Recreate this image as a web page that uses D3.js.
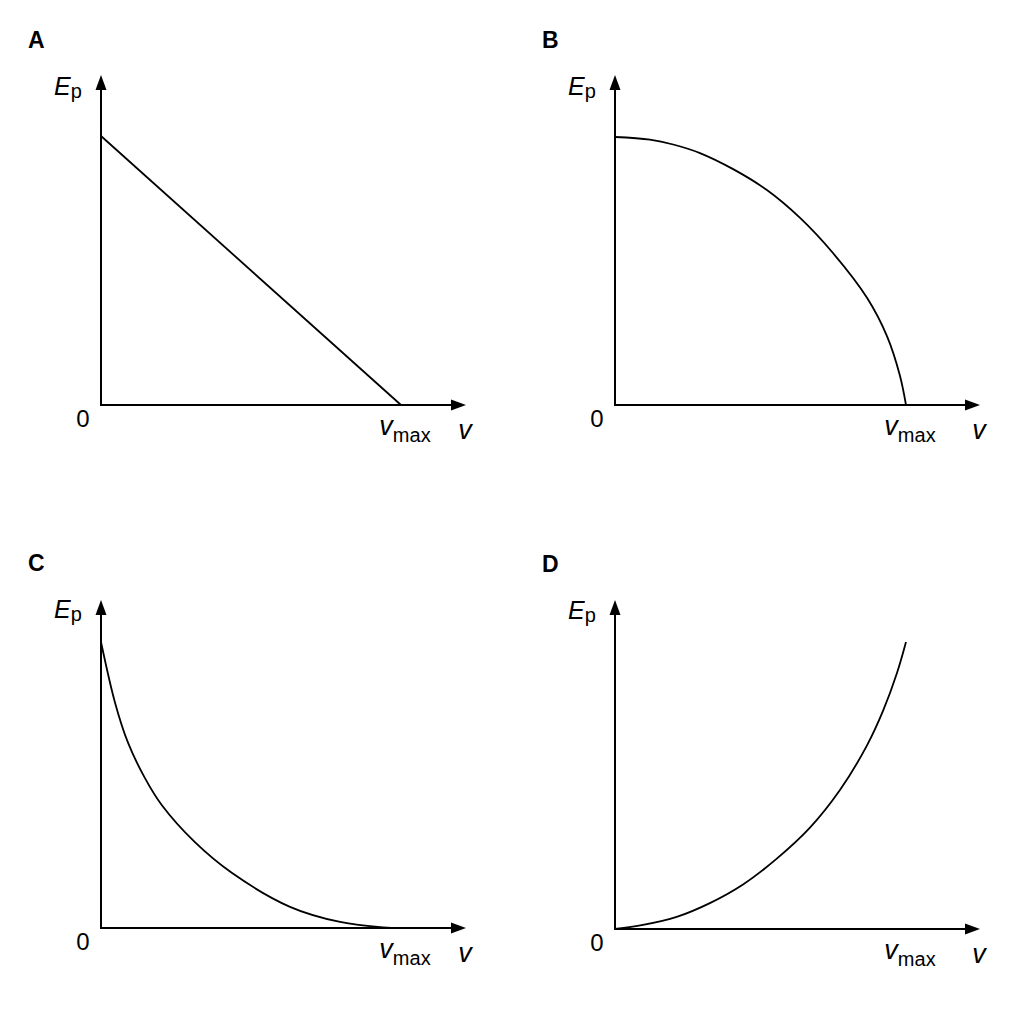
<!DOCTYPE html>
<html>
<head>
<meta charset="utf-8">
<script src="https://cdn.jsdelivr.net/npm/d3@7"></script>
<style>
  body { margin: 0; background: #fff; }
  text { font-family: "Liberation Sans", Arial, sans-serif; fill: #000; }
</style>
</head>
<body>
<div id="chart"></div>
<script>
// values, normalised to vmax = 1 and Ep(max) = 1
const panelKeys = ["A", "B", "C", "D"];
const vA = [0, 1];
const epA = [1, 0];
const vB = [0, 0.12, 0.2, 0.292, 0.406, 0.522, 0.636, 0.749, 0.866, 0.935, 0.979, 1];
const epB = [1, 0.99, 0.972, 0.94, 0.88, 0.802, 0.698, 0.567, 0.4, 0.256, 0.11, 0];
const vC = [0, 0.047, 0.09, 0.147, 0.203, 0.313, 0.437, 0.63, 0.797, 0.94, 1];
const epC = [1, 0.787, 0.648, 0.523, 0.429, 0.3, 0.192, 0.074, 0.021, 0.002, 0];
const vD = [0, 0.096, 0.212, 0.326, 0.44, 0.556, 0.67, 0.773, 0.866, 0.921, 0.969, 1];
const epD = [0, 0.014, 0.042, 0.09, 0.155, 0.245, 0.353, 0.484, 0.64, 0.76, 0.892, 1];
const series = { A: [vA, epA], B: [vB, epB], C: [vC, epC], D: [vD, epD] };

// layout of each panel (origin, length of vmax and Ep max in px, axis lengths)
let layout = {
    A: { ox: 101, oy: 405, w: 300, h: 269, xLen: 365, yLen: 330 },
    B: { ox: 615, oy: 405, w: 291, h: 268, xLen: 365, yLen: 330 },
    C: { ox: 101, oy: 928, w: 300, h: 286, xLen: 365, yLen: 328 },
    D: { ox: 615, oy: 929, w: 291, h: 287, xLen: 365, yLen: 329 }
};

let svg = d3.select("#chart")
    .append("svg")
    .attr("width", 1024)
    .attr("height", 1024);

panelKeys.forEach(function (key) {
    let L = layout[key];
    let x = d3.scaleLinear().domain([0, 1]).range([L.ox, L.ox + L.w]);
    let y = d3.scaleLinear().domain([0, 1]).range([L.oy, L.oy - L.h]);
    let g = svg.append("g").attr("class", "panel-" + key);

    let xEnd = L.ox + L.xLen;
    let yEnd = L.oy - L.yLen;

    // axes
    g.append("line")
        .attr("x1", L.ox).attr("y1", L.oy)
        .attr("x2", xEnd - 12).attr("y2", L.oy)
        .attr("stroke", "#000").attr("stroke-width", 2);
    g.append("line")
        .attr("x1", L.ox).attr("y1", L.oy + 1)
        .attr("x2", L.ox).attr("y2", yEnd + 12)
        .attr("stroke", "#000").attr("stroke-width", 2);

    // arrow heads
    g.append("path")
        .attr("d", `M${xEnd},${L.oy} L${xEnd - 15},${L.oy - 5.5} L${xEnd - 15},${L.oy + 5.5} Z`)
        .attr("fill", "#000");
    g.append("path")
        .attr("d", `M${L.ox},${yEnd} L${L.ox - 5.5},${yEnd + 15} L${L.ox + 5.5},${yEnd + 15} Z`)
        .attr("fill", "#000");

    // the curve
    let pts = d3.zip(series[key][0], series[key][1]);
    g.append("path")
        .datum(pts)
        .attr("d", d3.line()
            .x(d => x(d[0]))
            .y(d => y(d[1]))
            .curve(d3.curveCatmullRom.alpha(0.5)))
        .attr("fill", "none")
        .attr("stroke", "#000")
        .attr("stroke-width", 1.8);

    // panel letter
    g.append("text")
        .attr("x", L.ox - 73)
        .attr("y", L.oy - 357)
        .style("font-size", "23px")
        .style("font-weight", "bold")
        .text(key);

    // Ep label
    let ep = g.append("text")
        .attr("x", L.ox - 47)
        .attr("y", L.oy - 310)
        .style("font-size", "25px");
    ep.append("tspan").style("font-style", "italic").text("E");
    ep.append("tspan").attr("dy", 3).style("font-size", "20px").text("p");

    // origin
    g.append("text")
        .attr("x", L.ox - 18)
        .attr("y", L.oy + 22)
        .attr("text-anchor", "middle")
        .style("font-size", "24px")
        .text("0");

    // vmax
    let vm = g.append("text")
        .attr("x", x(1) + 4)
        .attr("y", L.oy + 30)
        .attr("text-anchor", "middle")
        .style("font-size", "27px");
    vm.append("tspan").style("font-style", "italic").text("v");
    vm.append("tspan").attr("dy", 7).style("font-size", "20px").text("max");

    // v
    g.append("text")
        .attr("x", xEnd - 1)
        .attr("y", L.oy + 34)
        .attr("text-anchor", "middle")
        .style("font-size", "27px")
        .style("font-style", "italic")
        .text("v");
});
</script>
</body>
</html>
